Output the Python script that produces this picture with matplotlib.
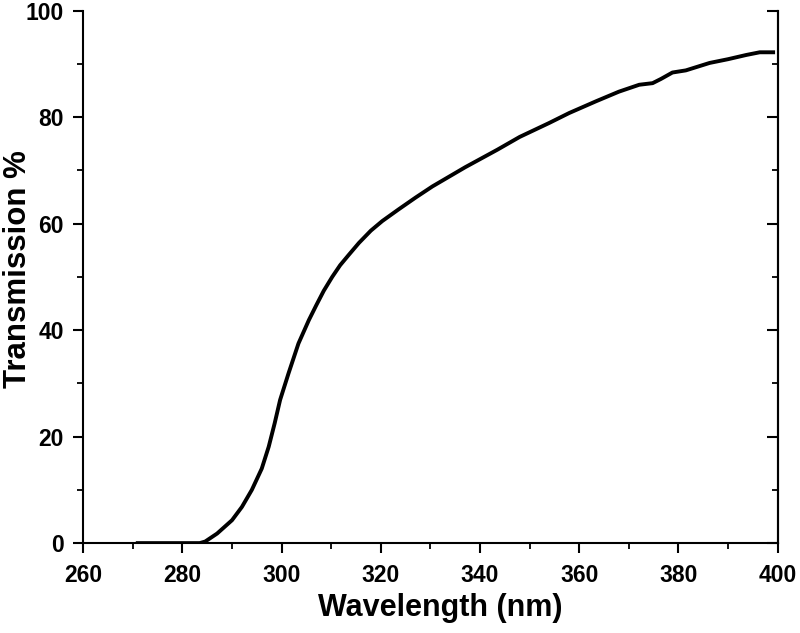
import matplotlib.pyplot as plt
from matplotlib.ticker import MultipleLocator

plt.rcParams['font.family'] = ['Liberation Sans', 'DejaVu Sans']
plt.rcParams['font.weight'] = 'bold'

# wavelength (nm) and transmission (%)
wavelength = [271.0, 276.0, 280.0, 283.5, 284.6, 287.0, 290.0, 292.0, 294.0, 296.0,
              297.4, 298.6, 299.7, 301.4, 303.4, 305.5, 307.0, 308.5, 310.2, 311.8,
              313.5, 315.6, 318.0, 320.3, 323.6, 327.0, 330.4, 337.0, 343.5, 348.0,
              353.9, 358.0, 363.4, 368.0, 372.1, 374.8, 376.5, 378.8, 381.5, 386.3,
              390.0, 393.7, 396.4, 399.1]
transmission = [0.0, 0.0, 0.0, 0.0, 0.3, 1.8, 4.3, 6.8, 10.0, 14.0,
                18.1, 22.5, 26.9, 31.9, 37.5, 41.9, 44.7, 47.4, 50.0, 52.2,
                54.1, 56.4, 58.7, 60.5, 62.7, 64.9, 67.0, 70.6, 73.9, 76.3,
                78.9, 80.8, 83.0, 84.8, 86.1, 86.4, 87.2, 88.4, 88.8, 90.2,
                90.9, 91.7, 92.2, 92.2]

x_ticks = [260, 280, 300, 320, 340, 360, 380, 400]
y_ticks = [0, 20, 40, 60, 80, 100]


def main():
    fig = plt.figure(figsize=(8.0, 6.33), dpi=100)
    ax = fig.add_axes([0.104, 0.142, 0.868, 0.841])

    ax.plot(wavelength, transmission, color='black', linewidth=2.8,
            solid_joinstyle='round')

    ax.set_xlim(260, 400)
    ax.set_ylim(0, 100)
    ax.set_xticks(x_ticks)
    ax.set_yticks(y_ticks)
    ax.xaxis.set_minor_locator(MultipleLocator(10))
    ax.yaxis.set_minor_locator(MultipleLocator(10))

    ax.spines['top'].set_visible(False)
    for side in ['left', 'bottom', 'right']:
        ax.spines[side].set_linewidth(1.5)

    ax.tick_params(which='major', direction='out', length=7, width=1.5,
                   labelsize=16.5)
    ax.tick_params(which='minor', direction='out', length=4, width=1.3)
    ax.tick_params(axis='x', which='major', pad=8)
    ax.tick_params(axis='y', which='major', pad=7)

    # right-hand axis: ticks pointing inward, no labels
    ax2 = ax.secondary_yaxis('right')
    ax2.set_yticks(y_ticks)
    ax2.yaxis.set_minor_locator(MultipleLocator(10))
    ax2.spines['right'].set_linewidth(1.5)
    ax2.tick_params(which='major', direction='in', length=8, width=1.5,
                    labelright=False)
    ax2.tick_params(which='minor', direction='in', length=4, width=1.3)

    ax.set_xlabel('Wavelength (nm)', fontsize=22, fontweight='bold')
    ax.set_ylabel('Transmission %', fontsize=22.5, fontweight='bold')
    ax.xaxis.set_label_coords(0.514, -0.093)
    ax.yaxis.set_label_coords(-0.072, 0.515)

    fig.savefig('out.png', dpi=100)


if __name__ == "__main__":
    main()
